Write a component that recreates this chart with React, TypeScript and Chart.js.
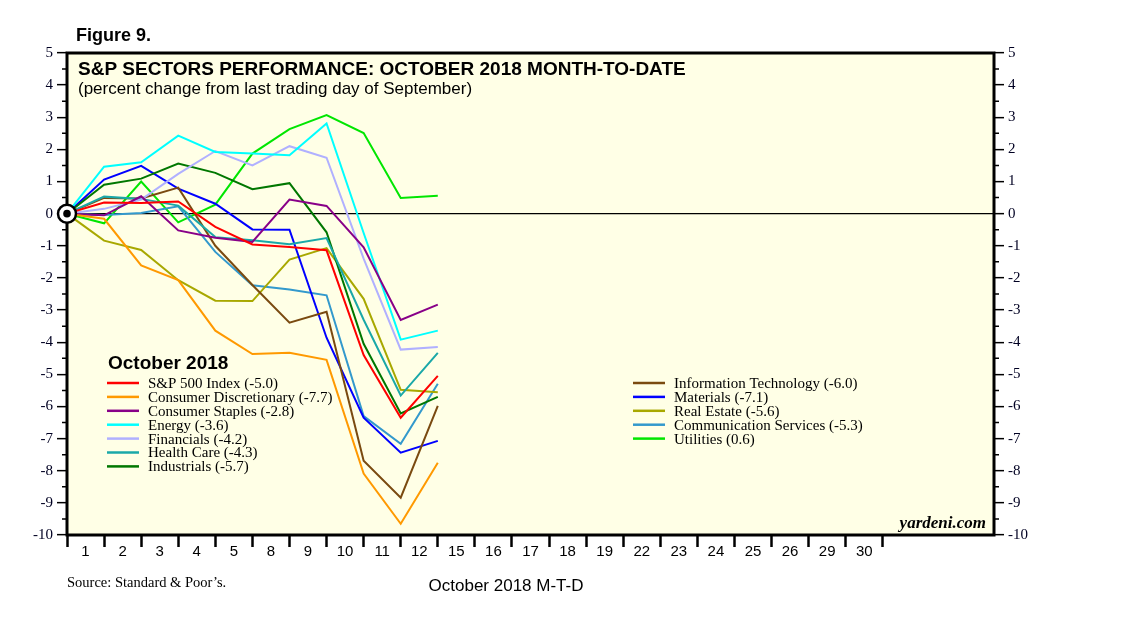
import { useEffect, useRef } from "react";
import { Chart, registerables } from "chart.js";

Chart.register(...registerables);

// trading days of October 2018 on the x axis
const days = ["1", "2", "3", "4", "5", "8", "9", "10", "11", "12", "15", "16", "17", "18", "19", "22", "23", "24", "25", "26", "29", "30"];

// closes: Sep 28 (=0) then Oct 1 ... Oct 12, % change
const sp500 = [0, 0.35, 0.33, 0.38, -0.41, -0.96, -1.04, -1.14, -4.4, -6.35, -5.05];
const consDisc = [0, -0.16, -1.61, -2.07, -3.64, -4.37, -4.33, -4.55, -8.09, -9.65, -7.75];
const consStaples = [0, -0.05, 0.54, -0.52, -0.75, -0.88, 0.44, 0.24, -1.05, -3.31, -2.83];
const energy = [0, 1.46, 1.6, 2.43, 1.92, 1.87, 1.82, 2.81, -0.6, -3.92, -3.64];
const financials = [0, 0.15, 0.44, 1.24, 1.95, 1.5, 2.1, 1.74, -1.4, -4.23, -4.15];
const healthCare = [0, 0.53, 0.46, 0.25, -0.73, -0.83, -0.95, -0.76, -3.3, -5.66, -4.33];
const industrials = [0, 0.9, 1.09, 1.56, 1.27, 0.76, 0.95, -0.58, -4.05, -6.22, -5.7];
const infoTech = [0, 0.49, 0.47, 0.81, -1.0, -2.22, -3.39, -3.05, -7.69, -8.84, -5.98];
const materials = [0, 1.06, 1.49, 0.78, 0.31, -0.49, -0.5, -3.86, -6.35, -7.44, -7.07];
const realEstate = [0, -0.84, -1.13, -2.07, -2.71, -2.72, -1.43, -1.07, -2.65, -5.48, -5.56];
const commServices = [0, -0.04, 0.02, 0.23, -1.19, -2.23, -2.36, -2.54, -6.3, -7.16, -5.29];
const utilities = [0, -0.3, 1.0, -0.27, 0.28, 1.87, 2.63, 3.07, 2.51, 0.49, 0.56];

const names = [
  "S&P 500 Index (-5.0)",
  "Consumer Discretionary (-7.7)",
  "Consumer Staples (-2.8)",
  "Energy (-3.6)",
  "Financials (-4.2)",
  "Health Care (-4.3)",
  "Industrials (-5.7)",
  "Information Technology (-6.0)",
  "Materials (-7.1)",
  "Real Estate (-5.6)",
  "Communication Services (-5.3)",
  "Utilities (0.6)",
];
const values = [sp500, consDisc, consStaples, energy, financials, healthCare, industrials, infoTech, materials, realEstate, commServices, utilities];
const colors = ["#ff0000", "#ff9900", "#880088", "#00ffff", "#b0b0ff", "#1aa8a8", "#007700", "#7a4a10", "#0000ff", "#a8a800", "#3399cc", "#00e600"];

const SANS = "'Liberation Sans', Arial, sans-serif";
const SERIF = "'Liberation Serif', 'Times New Roman', serif";

const decorations = {
  id: "decorations",
  beforeDraw(chart: any) {
    const { ctx, chartArea: a } = chart;
    ctx.save();
    ctx.fillStyle = "#ffffe6";
    ctx.fillRect(a.left, a.top, a.right - a.left, a.bottom - a.top);
    ctx.restore();
  },
  beforeDatasetsDraw(chart: any) {
    const { ctx, chartArea: a, scales } = chart;
    ctx.save();
    ctx.strokeStyle = "#000";
    ctx.lineWidth = 1.5;
    for (let v = -9.5; v < 5; v += 1) {
      const py = scales.y.getPixelForValue(v);
      ctx.beginPath();
      ctx.moveTo(a.left - 5, py);
      ctx.lineTo(a.left, py);
      ctx.moveTo(a.right, py);
      ctx.lineTo(a.right + 5, py);
      ctx.stroke();
    }
    ctx.lineWidth = 3;
    ctx.strokeRect(a.left, a.top, a.right - a.left, a.bottom - a.top);
    ctx.restore();
  },
  afterDatasetsDraw(chart: any) {
    const { ctx, scales } = chart;
    ctx.save();
    // origin marker
    const ox = scales.x.getPixelForValue(0);
    const oy = scales.y.getPixelForValue(0);
    ctx.beginPath();
    ctx.arc(ox, oy, 9, 0, Math.PI * 2);
    ctx.fillStyle = "#fff";
    ctx.fill();
    ctx.lineWidth = 2.5;
    ctx.strokeStyle = "#000";
    ctx.stroke();
    ctx.beginPath();
    ctx.arc(ox, oy, 3.8, 0, Math.PI * 2);
    ctx.fillStyle = "#000";
    ctx.fill();

    // titles
    ctx.fillStyle = "#000";
    ctx.textAlign = "left";
    ctx.textBaseline = "alphabetic";
    ctx.font = `bold 18px ${SANS}`;
    ctx.fillText("Figure 9.", 76, 41);
    ctx.font = `bold 19px ${SANS}`;
    ctx.fillText("S&P SECTORS PERFORMANCE: OCTOBER 2018 MONTH-TO-DATE", 78, 75);
    ctx.font = `17px ${SANS}`;
    ctx.fillText("(percent change from last trading day of September)", 78, 94);

    // legend
    ctx.font = `bold 19px ${SANS}`;
    ctx.fillText("October 2018", 108, 369);
    ctx.font = `15px ${SERIF}`;
    ctx.textBaseline = "middle";
    names.forEach((name, i) => {
      const col = i < 7 ? 0 : 1;
      const row = col === 0 ? i : i - 7;
      const lx = col === 0 ? 107 : 633;
      const y = 383 + row * 13.9;
      ctx.strokeStyle = colors[i];
      ctx.lineWidth = 2.5;
      ctx.beginPath();
      ctx.moveTo(lx, y);
      ctx.lineTo(lx + 32, y);
      ctx.stroke();
      ctx.fillText(name, lx + 41, y + 1);
    });

    // credits
    ctx.textBaseline = "alphabetic";
    ctx.textAlign = "right";
    ctx.font = `italic bold 17px ${SERIF}`;
    ctx.fillText("yardeni.com", 986, 528);
    ctx.textAlign = "left";
    ctx.font = `14.5px ${SERIF}`;
    ctx.fillText("Source: Standard & Poor\u2019s.", 67, 587);
    ctx.textAlign = "center";
    ctx.font = `17px ${SANS}`;
    ctx.fillText("October 2018 M-T-D", 506, 591);
    ctx.restore();
  },
};

function yAxis(position: "left" | "right", width: number, onArea: boolean) {
  return {
    type: "linear",
    position,
    min: -10,
    max: 5,
    afterBuildTicks: (s: any) => {
      const t = [];
      for (let v = -10; v <= 5; v++) t.push({ value: v });
      s.ticks = t;
    },
    afterFit: (s: any) => {
      s.width = width;
    },
    border: { display: false },
    grid: {
      drawOnChartArea: onArea,
      color: (c: any) => (c.tick && c.tick.value === 0 ? "#000" : "rgba(0,0,0,0)"),
      lineWidth: 1.3,
      drawTicks: true,
      tickLength: 10,
      tickWidth: 1.5,
      tickColor: "#000",
    },
    ticks: {
      color: "#000022",
      padding: 4,
      font: { family: SERIF, size: 15 },
    },
  };
}

export default function App() {
  const canvasRef = useRef<HTMLCanvasElement>(null);

  useEffect(() => {
    if (!canvasRef.current) return;
    const chart = new Chart(canvasRef.current, {
      type: "line",
      data: {
        datasets: values.map((vals, i) => ({
          label: names[i],
          data: vals.map((v, k) => ({ x: k, y: v })),
          borderColor: colors[i],
          backgroundColor: colors[i],
          borderWidth: 2,
          pointRadius: 0,
          tension: 0,
          yAxisID: "y",
        })),
      },
      options: {
        responsive: false,
        animation: false,
        layout: { padding: { left: 0, right: 84, top: 53, bottom: 67 } },
        plugins: {
          legend: { display: false },
          tooltip: { enabled: false },
        },
        scales: {
          x: {
            type: "linear",
            min: 0,
            max: 25,
            afterBuildTicks: (s: any) => {
              const t = [];
              for (let v = 0; v <= 22; v += 0.5) t.push({ value: v });
              s.ticks = t;
            },
            afterFit: (s: any) => {
              s.height = 30;
            },
            border: { display: false },
            grid: {
              drawOnChartArea: false,
              drawTicks: true,
              tickLength: 12,
              tickWidth: 2.5,
              tickColor: (c: any) => (c.tick && Number.isInteger(c.tick.value) ? "#000" : "rgba(0,0,0,0)"),
            },
            ticks: {
              autoSkip: false,
              maxRotation: 0,
              minRotation: 0,
              padding: -4,
              color: "#000",
              font: { family: SANS, size: 15 },
              callback: (v: any) => (Number.isInteger(v) ? "" : days[Math.floor(v)]),
            },
          },
          y: yAxis("left", 67, true),
          y2: yAxis("right", 60, false),
        } as any,
      },
      plugins: [decorations],
    });
    return () => chart.destroy();
  }, []);

  return (
    <div style={{ position: "absolute", left: 0, top: 0, width: 1138, height: 632, background: "#fff" }}>
      <canvas ref={canvasRef} width={1138} height={632} />
    </div>
  );
}
